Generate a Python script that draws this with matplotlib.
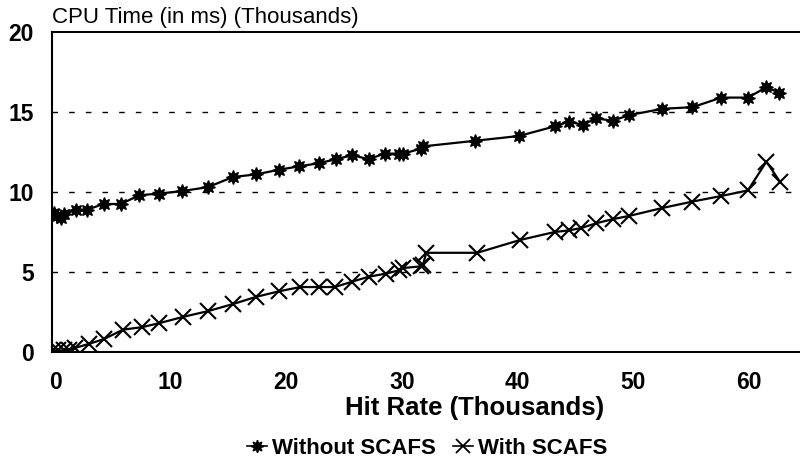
import matplotlib
matplotlib.use("Agg")
import matplotlib.pyplot as plt
from matplotlib.lines import Line2D

plt.rcParams['font.family'] = ['Liberation Sans', 'DejaVu Sans']

# Hit rate (thousands) / CPU time (thousands of ms)
hits_without = [-0.1, 0.2, 0.5, 0.8, 1.8, 2.8, 4.2, 5.7, 7.3, 9.0, 11.0, 13.2,
                15.4, 17.4, 19.4, 21.1, 22.8, 24.3, 25.7, 27.1, 28.5, 29.7,
                30.1, 31.6, 31.8, 36.3, 40.1, 43.2, 44.4, 45.6, 46.8, 48.2,
                49.6, 52.5, 55.1, 57.6, 59.9, 61.5, 62.6]
cpu_without = [8.7, 8.5, 8.4, 8.6, 8.9, 8.9, 9.25, 9.25, 9.8, 9.9, 10.06, 10.3,
               10.94, 11.1, 11.4, 11.6, 11.8, 12.05, 12.3, 12.05, 12.4, 12.4,
               12.4, 12.7, 12.85, 13.2, 13.5, 14.1, 14.4, 14.2, 14.6, 14.45,
               14.8, 15.2, 15.3, 15.9, 15.9, 16.55, 16.2]

hits_with = [-0.2, 0.3, 0.8, 1.2, 1.7, 2.9, 4.2, 5.9, 7.5, 9.0, 11.1, 13.2,
             15.4, 17.4, 19.4, 21.2, 22.8, 24.2, 25.7, 27.1, 28.6, 29.7,
             30.1, 31.6, 31.8, 32.1, 36.5, 40.2, 43.2, 44.4, 45.5, 46.8,
             48.2, 49.6, 52.5, 55.1, 57.6, 59.9, 61.5, 62.7]
cpu_with = [0.1, 0.1, 0.1, 0.15, 0.25, 0.5, 0.8, 1.4, 1.55, 1.8, 2.2, 2.55,
            3.0, 3.45, 3.8, 4.06, 4.06, 4.06, 4.4, 4.7, 4.9, 5.1,
            5.25, 5.35, 5.45, 6.2, 6.2, 7.0, 7.5, 7.6, 7.75, 8.05,
            8.3, 8.5, 9.0, 9.4, 9.75, 10.1, 11.9, 10.6]

yticks = [0, 5, 10, 15, 20]
xticks = [0, 10, 20, 30, 40, 50, 60]

fig = plt.figure(figsize=(8, 4.76), dpi=100)
ax = fig.add_axes([0.065, 0.2605, 0.935, 0.6723])

star = (8, 1, 0)
ax.plot(hits_without, cpu_without, color='black', lw=1.6, marker=star,
        markersize=10, markerfacecolor='black', markeredgecolor='black')
ax.plot(hits_with, cpu_with, color='black', lw=1.6, marker='x',
        markersize=11, markeredgewidth=1.5)

ax.set_xlim(-0.26, 64.4)
ax.set_ylim(0, 20)
ax.set_xticks(xticks)
ax.set_yticks(yticks)
for y in [5, 10, 15]:
    ax.axhline(y, color='black', lw=1.0, ls=(0, (4, 8)), zorder=0)

ax.spines['right'].set_visible(False)
for s in ['top', 'bottom', 'left']:
    ax.spines[s].set_linewidth(1.5)
ax.tick_params(length=0, labelsize=16.5)
ax.tick_params(axis='x', pad=14)
ax.tick_params(axis='y', pad=13)
for lab in ax.get_xticklabels() + ax.get_yticklabels():
    lab.set_fontweight('bold')

fig.text(0.065, 0.951, 'CPU Time (in ms) (Thousands)', fontsize=16,
         ha='left', va='baseline')
fig.text(0.593, 0.142, 'Hit Rate (Thousands)', fontsize=18.5, fontweight='bold',
         ha='center', va='center')

handles = [Line2D([], [], color='black', lw=1.2, marker=star, markersize=9),
           Line2D([], [], color='black', lw=1.2, marker='x', markersize=10,
                  markeredgewidth=1.3)]
fig.legend(handles, ['Without SCAFS', 'With SCAFS'], loc='center',
           bbox_to_anchor=(0.534, 0.058), ncol=2, frameon=False,
           handlelength=0.9, handletextpad=0.2, columnspacing=0.8,
           prop={'size': 16, 'weight': 'bold'})

fig.savefig('out.png', dpi=100)
